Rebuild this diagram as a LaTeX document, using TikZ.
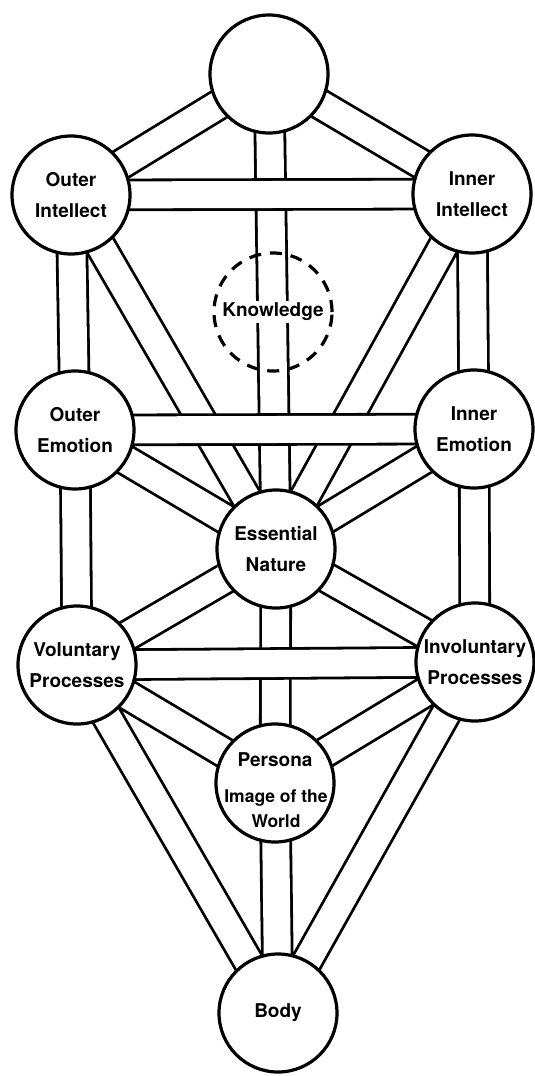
\documentclass[tikz,border=0pt]{standalone}
\usepackage{fontspec}
\setmainfont{TeX Gyre Heros}
\pgfdeclarelayer{bg}
\pgfsetlayers{bg,main}
\begin{document}
\begin{tikzpicture}[x=1pt,y=-1pt,
  band/.style={line width=2.8pt, double=white, double distance=27pt},
  sph/.style={circle, draw, line width=3.2pt, fill=white, minimum size=118pt,
    inner sep=0pt, align=center, font=\bfseries\fontsize{19}{31}\selectfont},
  txt/.style={inner sep=0pt, font=\bfseries\fontsize{19}{31}\selectfont},
]
\useasboundingbox (0,0) rectangle (535,1076);
\node (top) [sph] at (269,74) {};
\node (oi)  [sph] at (71,195) {Outer\\Intellect};
\node (ii)  [sph] at (472,194) {Inner\\Intellect};
\node (know) [circle, draw, line width=3.2pt, dash pattern=on 12pt off 8.94pt,
  minimum size=118pt, inner sep=0pt] at (273,312) {};
\node (knowtxt) [txt, fill=white, inner sep=2pt] at (know.center) {Knowledge};
\node (oe)  [sph] at (75,430) {Outer\\Emotion};
\node (ie)  [sph] at (474,429) {Inner\\Emotion};
\node (ess) [sph] at (276,549) {Essential\\Nature};
\node (vol) [sph] at (77,665) {Voluntary\\Processes};
\node (inv) [sph] at (475,662) {Involuntary\\Processes};
\node (per) [sph] at (275,783) {};
\node (pt1) [txt, anchor=base] at (275,766) {Persona};
\node (pt2) [txt, anchor=base, font=\bfseries\fontsize{17.5}{24}\selectfont] at (276,802) {Image of the};
\node (pt3) [txt, anchor=base, font=\bfseries\fontsize{17.5}{24}\selectfont] at (276,827) {World};
\node (body) [sph] at (278,1013) {Body};
\begin{pgfonlayer}{bg}
  \draw[band] (top.center) -- (oi.center);
  \draw[band] (top.center) -- (ii.center);
  \draw[band] (top.center) -- (ess.center);
  \draw[band] (oi.center) -- (oe.center);
  \draw[band] (ii.center) -- (ie.center);
  \draw[band] (oi.center) -- (ess.center);
  \draw[band] (ii.center) -- (ess.center);
  \draw[band] (oe.center) -- (ess.center);
  \draw[band] (ie.center) -- (ess.center);
  \draw[band] (oe.center) -- (vol.center);
  \draw[band] (ie.center) -- (inv.center);
  \draw[band] (ess.center) -- (vol.center);
  \draw[band] (ess.center) -- (inv.center);
  \draw[band] (ess.center) -- (per.center);
  \draw[band] (vol.center) -- (per.center);
  \draw[band] (inv.center) -- (per.center);
  \draw[band] (vol.center) -- (body.center);
  \draw[band] (inv.center) -- (body.center);
  \draw[band] (per.center) -- (body.center);
  \draw[band] (oi.center) -- (ii.center);
  \draw[band] (oe.center) -- (ie.center);
  \draw[band] (vol.center) -- (inv.center);
\end{pgfonlayer}
\end{tikzpicture}
\end{document}
